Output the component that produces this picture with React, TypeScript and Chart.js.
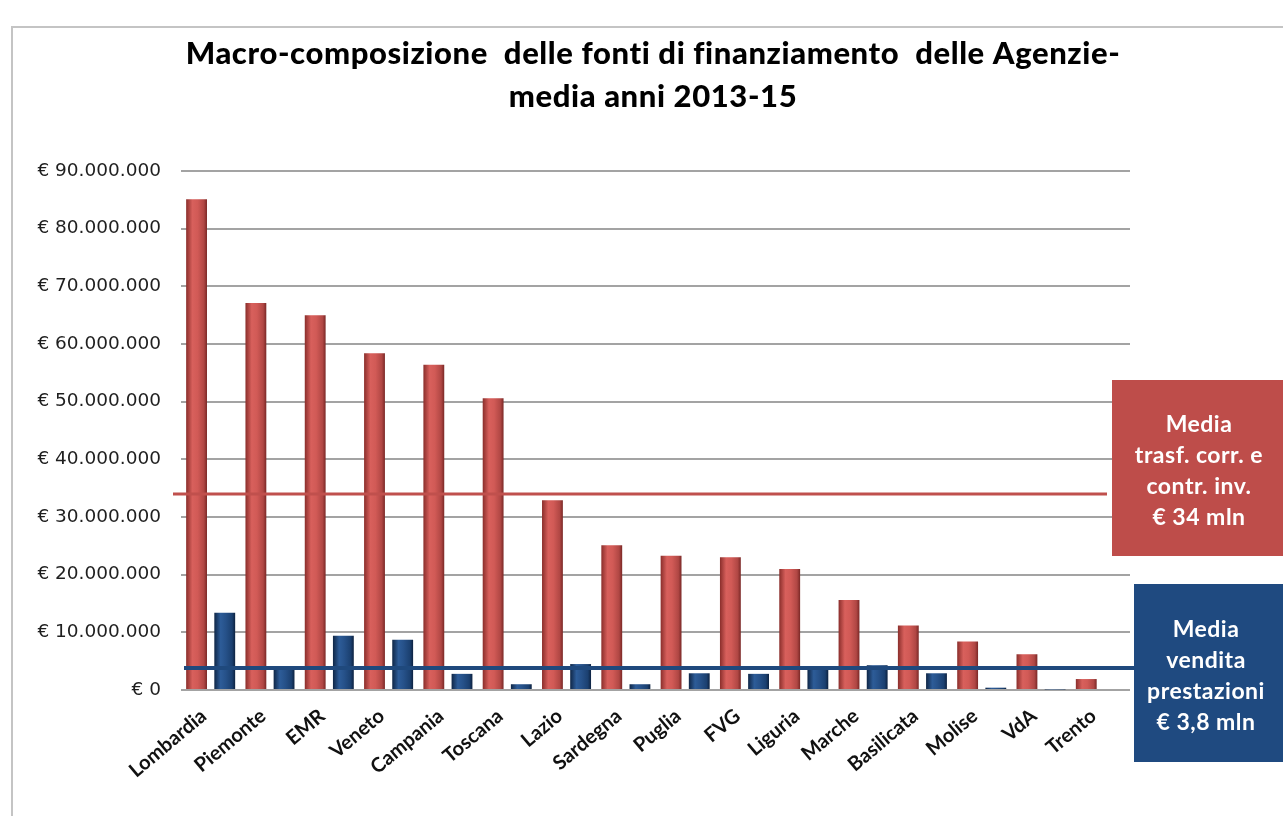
import React, { useEffect, useRef } from "react";
import { Chart, registerables } from "chart.js";

Chart.register(...registerables);

// ---- data (values in € milioni) ----
const regions = [
  "Lombardia", "Piemonte", "EMR", "Veneto", "Campania", "Toscana", "Lazio", "Sardegna",
  "Puglia", "FVG", "Liguria", "Marche", "Basilicata", "Molise", "VdA", "Trento",
];
const trasfCorrContrInv = [85.1, 67.1, 65.0, 58.4, 56.4, 50.6, 32.9, 25.1, 23.3, 23.0, 21.0, 15.6, 11.2, 8.4, 6.2, 1.9];
const venditaPrestazioni = [13.4, 4.0, 9.4, 8.7, 2.8, 1.0, 4.5, 1.0, 2.9, 2.8, 3.5, 4.3, 2.9, 0.4, 0.1, 0.0];
const yMin = 0;
const yMax = 90;
const yStep = 10;
const mediaTrasf = 34;
const mediaVendita = 3.8;
const titleLines = ["Macro-composizione  delle fonti di finanziamento  delle Agenzie-", "media anni 2013-15"];
const boxTrasfLines = ["Media", "trasf. corr. e", "contr. inv.", "€ 34 mln"];
const boxVenditaLines = ["Media", "vendita", "prestazioni", "€ 3,8 mln"];

const RED = "#C0504D";
const BLUE = "#1F497D";
const CAT_PCT = 0.95;
const BAR_PCT = 0.74;

const redStops: [number, string][] = [[0, "#8a2e2b"], [0.3, "#d8605c"], [0.55, "#d15a56"], [0.85, "#b04744"], [1, "#7a2826"]];
const blueStops: [number, string][] = [[0, "#0f2646"], [0.3, "#2d5c98"], [0.55, "#265189"], [0.85, "#1b4070"], [1, "#0d2240"]];

function formatEuro(v: number): string {
  const n = Math.round(v * 1000000);
  return "€ " + n.toString().replace(/\B(?=(\d{3})+(?!\d))/g, ".");
}

function barGradient(c: any, dsIndex: number, stops: [number, string][], fallback: string) {
  const chart = c.chart;
  const xs = chart.scales && chart.scales.x;
  if (!xs || c.type !== "data" || !isFinite(xs.width) || xs.width <= 0) return fallback;
  const catW = xs.width / regions.length;
  const center = xs.getPixelForValue(c.dataIndex);
  const slot = (catW * CAT_PCT) / 2;
  const barW = slot * BAR_PCT;
  const bc = center - (catW * CAT_PCT) / 2 + slot * (dsIndex + 0.5);
  const g = chart.ctx.createLinearGradient(bc - barW / 2, 0, bc + barW / 2, 0);
  stops.forEach(([o, col]) => g.addColorStop(o, col));
  return g;
}

const overlayPlugin = {
  id: "overlay",
  beforeDraw(chart: any) {
    const { ctx, width, height } = chart;
    ctx.save();
    ctx.fillStyle = "#ffffff";
    ctx.fillRect(0, 0, width, height);
    // frame
    ctx.strokeStyle = "#c4c4c4";
    ctx.lineWidth = 2;
    ctx.beginPath();
    ctx.moveTo(12, height);
    ctx.lineTo(12, 27);
    ctx.lineTo(width, 27);
    ctx.stroke();
    // title
    ctx.fillStyle = "#000000";
    ctx.font = "900 31px Lato";
    try { (ctx as any).letterSpacing = "0.6px"; } catch (e) { /* ignore */ }
    ctx.textAlign = "center";
    ctx.textBaseline = "alphabetic";
    ctx.fillText(titleLines[0], 653, 64);
    ctx.fillText(titleLines[1], 653, 107);
    try { (ctx as any).letterSpacing = "0px"; } catch (e) { /* ignore */ }
    ctx.restore();
  },
  afterDatasetsDraw(chart: any) {
    const { ctx, chartArea, scales, width } = chart;
    const y = scales.y;
    ctx.save();
    // average lines
    const yr = y.getPixelForValue(mediaTrasf);
    ctx.strokeStyle = RED;
    ctx.lineWidth = 3;
    ctx.beginPath();
    ctx.moveTo(chartArea.left - 8, yr);
    ctx.lineTo(chartArea.right - 23, yr);
    ctx.stroke();
    const yb = y.getPixelForValue(mediaVendita);
    ctx.strokeStyle = BLUE;
    ctx.lineWidth = 4;
    ctx.beginPath();
    ctx.moveTo(chartArea.left + 3, yb);
    ctx.lineTo(chartArea.right + 8, yb);
    ctx.stroke();

    // boxes
    const drawBox = (x0: number, y0: number, y1: number, fill: string, lines: string[], cx: number, firstY: number, gap: number) => {
      ctx.fillStyle = fill;
      ctx.fillRect(x0, y0, width - x0, y1 - y0);
      ctx.fillStyle = "#ffffff";
      ctx.font = "bold 23px Lato";
      try { (ctx as any).letterSpacing = "0.5px"; } catch (e) { /* ignore */ }
      ctx.textAlign = "center";
      ctx.textBaseline = "middle";
      lines.forEach((t, i) => ctx.fillText(t, cx, firstY + i * gap));
      try { (ctx as any).letterSpacing = "0px"; } catch (e) { /* ignore */ }
    };
    drawBox(chartArea.right - 18, 380, 556, "#BE4D4A", boxTrasfLines, 1199, 425, 31);
    drawBox(chartArea.right + 4, 584, 762, "#1F4A80", boxVenditaLines, 1206, 630, 31);
    ctx.restore();
  },
};

export default function App() {
  const canvasRef = useRef<HTMLCanvasElement | null>(null);

  useEffect(() => {
    if (!canvasRef.current) return;
    const chart = new Chart(canvasRef.current, {
      type: "bar",
      data: {
        labels: regions,
        datasets: [
          {
            label: "Trasf. corr. e contr. inv.",
            data: trasfCorrContrInv,
            backgroundColor: (c: any) => barGradient(c, 0, redStops, RED),
            borderWidth: 0,
            categoryPercentage: CAT_PCT,
            barPercentage: BAR_PCT,
          },
          {
            label: "Vendita prestazioni",
            data: venditaPrestazioni,
            backgroundColor: (c: any) => barGradient(c, 1, blueStops, BLUE),
            borderWidth: 0,
            categoryPercentage: CAT_PCT,
            barPercentage: BAR_PCT,
          },
        ],
      },
      options: {
        animation: false,
        responsive: true,
        maintainAspectRatio: false,
        layout: { padding: { top: 171, right: 153, left: 0, bottom: 0 } },
        plugins: {
          legend: { display: false },
          tooltip: { enabled: false },
          title: { display: false },
        },
        scales: {
          x: {
            grid: { display: false, drawTicks: false },
            border: { display: false },
            ticks: {
              autoSkip: false,
              maxRotation: 40,
              minRotation: 40,
              labelOffset: -7,
              padding: 14,
              color: "#111111",
              font: { family: "Lato", weight: "bold", size: 20 },
            },
            afterFit: (s: any) => {
              s.height = 126;
            },
          },
          y: {
            min: yMin,
            max: yMax,
            grid: { color: "#a3a3a3", lineWidth: 2, drawTicks: false },
            border: { display: false },
            ticks: {
              stepSize: yStep,
              padding: 20,
              color: "#1f1f1f",
              font: { family: "DejaVu Sans", size: 18.5 },
              callback: (v: any) => formatEuro(Number(v)),
            },
            afterFit: (s: any) => {
              s.width = 181;
            },
          },
        },
      },
      plugins: [overlayPlugin],
    });
    return () => chart.destroy();
  }, []);

  return (
    <div style={{ position: "absolute", left: 0, top: 0, width: 1283, height: 816, background: "#fff" }}>
      <canvas ref={canvasRef} />
    </div>
  );
}
